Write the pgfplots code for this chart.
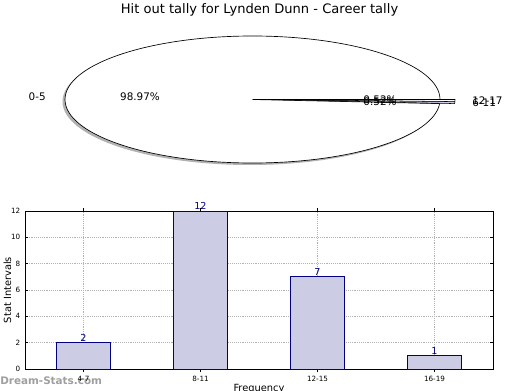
\documentclass[border=0pt]{standalone}
\usepackage{pgfplots}
\pgfplotsset{compat=1.18}
\usepackage{fontspec}
\setmainfont{DejaVu Sans}
\definecolor{barfill}{HTML}{CCCCE5}
\definecolor{baredge}{HTML}{000080}
\begin{document}
\begin{tikzpicture}
\path[use as bounding box] (0pt,0pt) rectangle (390pt,292.5pt);
% ---------- pie (pixel coordinates, y = 390 - pixel y)
\begin{axis}[at={(0pt,0pt)}, anchor=south west, width=390pt, height=292.5pt,
  scale only axis, xmin=0, xmax=520, ymin=0, ymax=390, hide axis, clip=false]
  \fill[gray!60] (axis cs:250,288.5) ellipse [x radius=187.5, y radius=63.5];
  \draw[black, fill=white, line width=0.5pt] (axis cs:252.5,290.5) ellipse [x radius=187.5, y radius=63.5];
  % main slice edges
  \addplot[black, line width=0.5pt] coordinates {(440,290.5) (252.5,290.5) (439.6,286.4)};
  % 6-11 slice (exploded)
  \addplot[black, fill=barfill, line width=0.4pt] coordinates {(267.5,290.5) (454.6,286.4) (454.9,288.4) (267.5,290.5)};
  % 12-17 slice (exploded)
  \addplot[black, fill=white, line width=0.4pt] coordinates {(267.5,290.5) (454.9,288.4) (455,290.5) (267.5,290.5)};
  \node[font=\fontsize{9.8}{11}\selectfont] at (axis cs:259.5,380) {Hit out tally for Lynden Dunn - Career tally};
  \node[anchor=east, font=\fontsize{7.8}{9}\selectfont, inner sep=0pt] at (axis cs:46,293) {0-5};
  \node[font=\fontsize{7.8}{9}\selectfont, inner sep=0pt] at (axis cs:140,293) {98.97\%};
  \node[font=\fontsize{7.8}{9}\selectfont, inner sep=0pt] at (axis cs:380,290.5) {0.52\%};
  \node[font=\fontsize{7.8}{9}\selectfont, inner sep=0pt] at (axis cs:380,288.2) {0.52\%};
  \node[anchor=west, font=\fontsize{7.8}{9}\selectfont, inner sep=0pt] at (axis cs:472,289.4) {12-17};
  \node[anchor=west, font=\fontsize{7.8}{9}\selectfont, inner sep=0pt] at (axis cs:472,287.1) {6-11};
  \node[anchor=west, font=\bfseries\fontsize{7.8}{9}\selectfont, text=gray!75, inner sep=0pt] at (axis cs:0,9) {Dream-Stats.com};
\end{axis}
% ---------- bar chart
\begin{axis}[at={(18.75pt,15.75pt)}, anchor=south west, width=351pt, height=118.5pt,
  scale only axis,
  ybar, bar width=0.455, bar shift=0pt,
  xmin=-0.5, xmax=3.5, ymin=0, ymax=12,
  xtick={0,1,2,3}, xticklabels={4-7,8-11,12-15,16-19},
  ytick={0,2,4,6,8,10,12},
  grid=major, grid style={densely dotted, gray!60, line width=0.6pt},
  axis line style={black, line width=0.6pt},
  tick style={black, line width=0.4pt}, major tick length=2pt,
  tick label style={font=\fontsize{5.4}{6}\selectfont},
  /pgf/number format/assume math mode=true,
  ylabel={Stat Intervals}, xlabel={Frequency},
  label style={font=\fontsize{7.4}{8}\selectfont},
  ylabel style={at={(axis description cs:-0.029,0.5)}, anchor=south, inner sep=0pt},
  xlabel style={at={(axis description cs:0.5,0)}, anchor=north, yshift=-11pt, inner sep=0pt},
  nodes near coords,
  nodes near coords style={text=baredge, font=\fontsize{7.2}{8}\selectfont, inner sep=0.5pt, anchor=south},
]
  \addplot[draw=baredge, fill=barfill, line width=0.6pt] coordinates {(0,2) (1,12) (2,7) (3,1)};
\end{axis}
\end{tikzpicture}
\end{document}
